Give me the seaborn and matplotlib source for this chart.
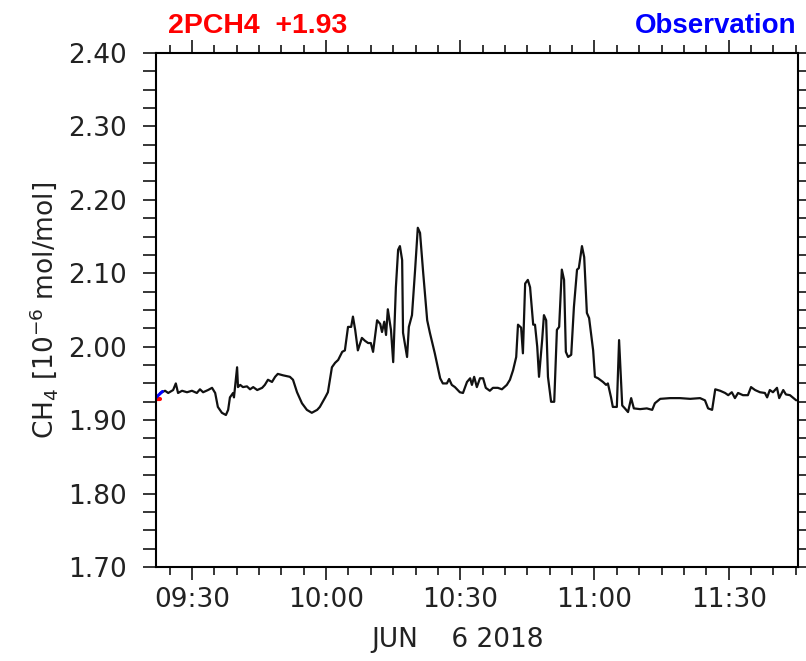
import numpy as np
import pandas as pd
import matplotlib
matplotlib.use("Agg")
import matplotlib.pyplot as plt
import matplotlib.dates as mdates
from matplotlib.ticker import MultipleLocator, FormatStrFormatter
import seaborn as sns

# ---- data (minutes after 09:00 on 2018-06-06, CH4 in 1e-6 mol/mol) ----
minutes = [22.9, 24.0, 24.7, 25.8, 26.4, 26.9, 27.8, 28.9, 30.0, 31.1, 31.8, 32.5,
           33.6, 34.5, 35.2, 35.8, 36.7, 37.6, 38.1, 38.5, 39.2, 39.4, 40.1, 40.3,
           40.8, 41.4, 42.3, 43.0, 43.7, 44.6, 45.7, 46.3, 47.0, 47.9, 48.6, 49.2,
           50.4, 51.9, 52.6, 53.5, 54.6, 55.7, 56.8, 58.0, 58.6, 59.8, 60.4, 61.3,
           62.0, 62.7, 63.6, 64.2, 64.9, 65.6, 66.0, 66.5, 67.1, 68.0, 68.7, 69.4,
           70.0, 70.5, 71.4, 72.1, 72.5, 73.0, 73.4, 73.8, 74.5, 75.0, 75.6, 76.1,
           76.5, 77.0, 77.2, 78.1, 78.5, 79.2, 79.9, 80.5, 81.0, 81.7, 82.6, 83.2,
           84.3, 85.5, 86.1, 87.0, 87.5, 88.1, 88.8, 89.9, 90.6, 91.5, 92.2, 92.6,
           93.1, 93.7, 94.4, 95.1, 95.7, 96.6, 97.3, 98.4, 99.3, 100.4, 101.1, 101.8,
           102.5, 102.9, 103.6, 104.0, 104.5, 105.1, 105.6, 106.3, 106.7, 107.2, 107.6, 108.3,
           108.7, 109.2, 109.6, 110.3, 111.0, 111.6, 112.1, 112.7, 113.2, 113.6, 114.1, 114.8,
           115.4, 116.1, 116.5, 117.2, 117.7, 118.3, 118.8, 119.7, 120.1, 120.8, 121.9, 122.6,
           123.0, 123.7, 124.1, 125.0, 125.5, 126.2, 126.8, 127.5, 128.2, 128.8, 130.2, 131.7,
           132.9, 133.5, 134.7, 136.9, 139.1, 141.4, 143.6, 144.7, 145.4, 146.3, 147.0, 148.1,
           149.2, 149.9, 150.7, 151.4, 152.1, 153.2, 154.3, 155.0, 155.9, 157.0, 158.1, 158.6,
           159.2, 159.9, 160.8, 161.3, 162.2, 162.8, 163.7, 165.1]
ch4 = [1.937, 1.940, 1.937, 1.941, 1.950, 1.937, 1.940, 1.938, 1.940, 1.937, 1.942, 1.938,
       1.941, 1.944, 1.937, 1.918, 1.910, 1.907, 1.914, 1.931, 1.937, 1.931, 1.972, 1.945,
       1.948, 1.945, 1.946, 1.942, 1.945, 1.941, 1.944, 1.948, 1.955, 1.952, 1.959, 1.963,
       1.961, 1.959, 1.955, 1.938, 1.923, 1.914, 1.910, 1.914, 1.918, 1.931, 1.938, 1.972,
       1.978, 1.982, 1.993, 1.995, 2.027, 2.027, 2.041, 2.023, 1.995, 2.012, 2.008, 2.005,
       2.005, 1.993, 2.036, 2.031, 2.020, 2.034, 2.016, 2.051, 2.023, 1.979, 2.081, 2.132,
       2.137, 2.118, 2.019, 1.986, 2.027, 2.043, 2.105, 2.162, 2.155, 2.101, 2.036, 2.019,
       1.991, 1.957, 1.950, 1.950, 1.956, 1.948, 1.945, 1.938, 1.937, 1.952, 1.957, 1.948,
       1.959, 1.945, 1.957, 1.957, 1.944, 1.940, 1.944, 1.944, 1.942, 1.948, 1.955, 1.968,
       1.986, 2.030, 2.026, 1.991, 2.086, 2.091, 2.081, 2.030, 2.030, 2.000, 1.959, 2.009,
       2.043, 2.036, 1.959, 1.925, 1.925, 2.023, 2.027, 2.105, 2.091, 1.993, 1.986, 1.989,
       2.054, 2.105, 2.107, 2.137, 2.122, 2.046, 2.039, 1.995, 1.959, 1.957, 1.952, 1.948,
       1.950, 1.931, 1.918, 1.918, 2.009, 1.920, 1.916, 1.911, 1.930, 1.916, 1.915, 1.916,
       1.914, 1.923, 1.929, 1.930, 1.930, 1.929, 1.930, 1.927, 1.916, 1.914, 1.942, 1.940,
       1.937, 1.934, 1.938, 1.930, 1.937, 1.934, 1.934, 1.945, 1.941, 1.938, 1.937, 1.931,
       1.941, 1.938, 1.944, 1.930, 1.941, 1.935, 1.934, 1.927]

obs_minutes = [22.0, 23.4]
obs_ch4 = [1.931, 1.939]
ref_minutes = [22.0, 22.9]
ref_ch4 = [1.929, 1.929]

title_left = "2PCH4  +1.93"
title_right = "Observation"
date_label = "JUN    6 2018"
ylabel = r"CH$_4$ [10$^{-6}$ mol/mol]"
xlim_minutes = [21.97, 165.5]
ylim = [1.70, 2.40]

base = pd.Timestamp("2018-06-06 09:00:00")
def to_time(m):
    return base + pd.to_timedelta(np.asarray(m, dtype=float), unit="min")

df = pd.DataFrame({"time": to_time(minutes), "ch4": ch4})
df_obs = pd.DataFrame({"time": to_time(obs_minutes), "ch4": obs_ch4})
df_ref = pd.DataFrame({"time": to_time(ref_minutes), "ch4": ref_ch4})

sns.set_theme(style="white")
plt.rcParams["font.family"] = ["DejaVu Sans"]
plt.rcParams["mathtext.fontset"] = "dejavusans"

fig = plt.figure(figsize=(8.06, 6.61), dpi=100)
ax = fig.add_axes([156/806, 1 - 567/661, (798-156)/806, (567-53)/661])

sns.lineplot(data=df, x="time", y="ch4", color="#111111", linewidth=1.6, ax=ax,
             estimator=None, sort=False)
sns.lineplot(data=df_ref, x="time", y="ch4", color="red", linewidth=3.0, ax=ax,
             estimator=None, sort=False)
sns.lineplot(data=df_obs, x="time", y="ch4", color="blue", linewidth=2.2, ax=ax,
             estimator=None, sort=False)

ax.set_xlim(to_time(xlim_minutes[:1])[0], to_time(xlim_minutes[1:])[0])
ax.set_ylim(*ylim)

ax.xaxis.set_major_locator(mdates.MinuteLocator(byminute=[0, 30]))
ax.xaxis.set_minor_locator(mdates.MinuteLocator(byminute=range(0, 60, 5)))
ax.xaxis.set_major_formatter(mdates.DateFormatter("%H:%M"))
ax.yaxis.set_major_locator(MultipleLocator(0.1))
ax.yaxis.set_minor_locator(MultipleLocator(0.025))
ax.yaxis.set_major_formatter(FormatStrFormatter("%.2f"))

for s in ax.spines.values():
    s.set_visible(True)
    s.set_color("black")
    s.set_linewidth(1.5)

ax.tick_params(axis="both", which="both", direction="out", color="black",
               top=True, right=True, bottom=True, left=True, width=1.1)
ax.tick_params(axis="y", which="both", length=9.4, labelsize=19,
               labelcolor="#222222", pad=11.5)
ax.tick_params(axis="x", which="major", length=9.5, labelsize=19,
               labelcolor="#222222", pad=5.0)
ax.tick_params(axis="x", which="minor", length=5.5)

ax.set_xlabel("")
ax.set_ylabel(ylabel, fontsize=19, color="#222222", labelpad=6)

fig.text(458/806, 1 - 640/661, date_label, ha="center", va="center",
         fontsize=19, color="#222222")
fig.text(168/806, 1 - 33/661, title_left, ha="left", va="baseline",
         fontsize=20.5, color="red", fontweight="bold", family="Liberation Sans")
fig.text(797/806, 1 - 33/661, title_right, ha="right", va="baseline",
         fontsize=20, color="blue", fontweight="bold", family="Liberation Sans")

fig.savefig("out.png", dpi=100)
